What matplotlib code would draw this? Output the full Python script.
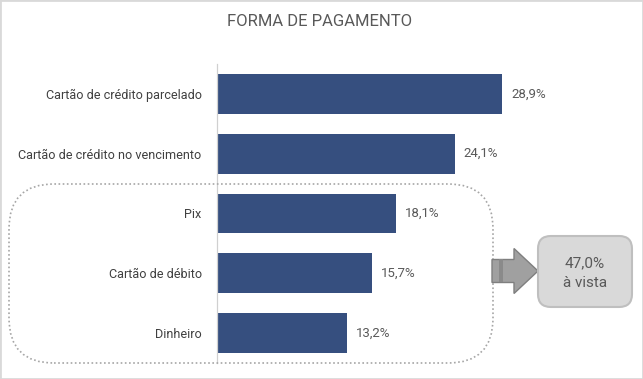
import matplotlib.pyplot as plt
from matplotlib.patches import FancyBboxPatch, FancyArrow, Rectangle

categorias = ['Cartão de crédito parcelado', 'Cartão de crédito no vencimento',
              'Pix', 'Cartão de débito', 'Dinheiro']
valores = [28.9, 24.1, 18.1, 15.7, 13.2]
rotulos = ['28,9%', '24,1%', '18,1%', '15,7%', '13,2%']
total_vista = '47,0%'

plt.rcParams['font.family'] = ['Roboto', 'DejaVu Sans']

W, H = 643, 379
fig = plt.figure(figsize=(W / 100, H / 100), dpi=100)

# axes em pixels: esquerda 217, topo 64, base 363
x0, y_top, y_bot = 217, 64, 363
px_per_unit = 9.87
xmax = 32
ax = fig.add_axes([x0 / W, 1 - y_bot / H, xmax * px_per_unit / W, (y_bot - y_top) / H])

ypos = list(range(len(categorias)))
ax.barh(ypos, valores, height=0.667, color='#364f7f')
ax.set_ylim(len(categorias) - 0.5, -0.5)
ax.set_xlim(0, xmax)
ax.set_yticks(ypos)
ax.set_yticklabels(categorias, fontsize=9.1, color='#404040')
ax.tick_params(axis='y', length=0, pad=11)
ax.set_xticks([])
for s in ['top', 'right', 'bottom']:
    ax.spines[s].set_visible(False)
ax.spines['left'].set_color('#d0d0d0')
ax.spines['left'].set_linewidth(0.9)

for y, v, r in zip(ypos, valores, rotulos):
    ax.text(v + 0.9, y, r, va='center', ha='left', fontsize=9.5, color='#595959')

fig.text(320 / W, 1 - 22 / H, 'FORMA DE PAGAMENTO', ha='center', va='center',
         fontsize=12, color='#595959')


def fx(px):
    return px / W


def fy(py):
    return 1 - py / H


# caixa pontilhada arredondada
bx0, bx1, by0, by1 = 9, 493, 184, 363
box = FancyBboxPatch((fx(bx0), fy(by1)), fx(bx1 - bx0), (by1 - by0) / H,
                     boxstyle='round,pad=0,rounding_size=0.07',
                     transform=fig.transFigure, fill=False,
                     edgecolor='#a6a6a6', linestyle=(0, (1, 1.5)), linewidth=1.2,
                     mutation_aspect=W / H)
fig.patches.append(box)

# seta
arrow = FancyArrow(fx(492), fy(271), fx(538 - 492), 0, width=23 / H,
                   head_width=45 / H, head_length=fx(538 - 514),
                   length_includes_head=True, transform=fig.transFigure,
                   facecolor='#a0a0a0', edgecolor='#7f7f7f', linewidth=1)
fig.patches.append(arrow)
fig.patches.append(Rectangle((fx(499), fy(282)), fx(4), 23 / H, transform=fig.transFigure,
                             facecolor='#8a8a8a', edgecolor='none'))

# caixa do total
cx0, cx1, cy0, cy1 = 538, 632, 236, 307
tot = FancyBboxPatch((fx(cx0), fy(cy1)), fx(cx1 - cx0), (cy1 - cy0) / H,
                     boxstyle='round,pad=0,rounding_size=0.02',
                     transform=fig.transFigure, facecolor='#d9d9d9',
                     edgecolor='#bfbfbf', linewidth=1.5, mutation_aspect=W / H)
fig.patches.append(tot)
fig.text(fx((cx0 + cx1) / 2), fy(263), total_vista, ha='center', va='center',
         fontsize=11, color='#595959')
fig.text(fx((cx0 + cx1) / 2), fy(283), 'à vista', ha='center', va='center',
         fontsize=11, color='#595959')

# borda da figura
fig.patches.append(Rectangle((0, 0), 1, 1, transform=fig.transFigure, fill=False,
                             edgecolor='#d9d9d9', linewidth=2))

fig.savefig('out.png', dpi=100, facecolor='white')
